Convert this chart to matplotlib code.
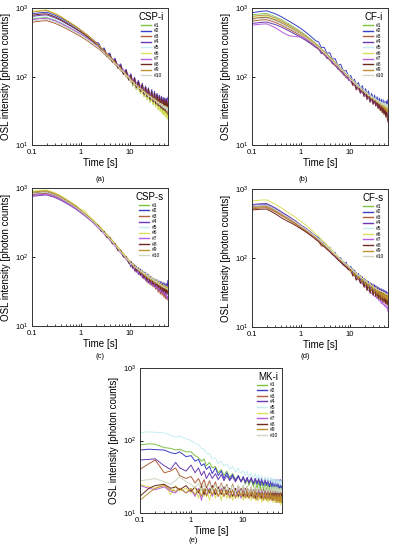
import matplotlib
matplotlib.use("Agg")
import matplotlib.pyplot as plt
from matplotlib.ticker import LogLocator, NullLocator, FixedLocator, FixedFormatter

plt.rcParams['font.family'] = ['Liberation Sans', 'DejaVu Sans']

# time axis shared by all decay curves [s]
time_s = [0.1, 0.15, 0.2, 0.3, 0.4, 0.5, 0.6, 0.8, 1.0,
          1.2, 1.4, 1.6, 1.8, 2.0, 2.3, 2.6, 3.0, 3.4, 3.9, 4.4, 5.0, 5.7, 6.5, 7.4, 8.4, 9.5,
          10.5, 11.5, 12.5, 13.5, 15, 16.5, 18, 19.5, 21, 22.5, 24, 26, 28, 30, 32, 34, 36, 38,
          40, 42, 44, 46, 48, 50, 52, 54, 56, 58, 60]

sample_names = ['#1', '#2', '#3', '#4', '#5', '#6', '#7', '#8', '#9', '#10']
sample_colors = ['#7dc242', '#3a3fc4', '#b0603c', '#6a3bb0', '#c8eef4',
                 '#dbe05a', '#b45ee0', '#6e2a1e', '#c0922e', '#cdd8c4']

csp_i = [
    [700, 725, 735, 665, 605, 555, 515, 460, 418,
     385, 356, 332, 310, 292, 270, 246, 226, 200, 188, 165, 158, 136, 130, 110, 108, 90,
     98, 73, 90, 65, 79, 57, 72, 51, 65, 46, 62, 42, 57, 39, 53, 37, 49, 33, 47, 32, 45, 29, 43, 28, 42, 27, 40, 26, 36],
    [830, 860, 875, 785, 710, 645, 598, 528, 474,
     430, 398, 366, 342, 320, 310, 258, 262, 210, 222, 172, 186, 138, 154, 112, 128, 93,
     110, 82, 98, 73, 88, 65, 80, 58, 73, 53, 69, 49, 65, 45, 61, 42, 57, 40, 54, 38, 52, 37, 50, 36, 49, 34, 48, 33, 48],
    [625, 650, 660, 600, 548, 505, 470, 422, 385,
     356, 330, 308, 290, 274, 255, 236, 215, 199, 180, 168, 150, 140, 122, 116, 100, 96,
     84, 84, 74, 75, 66, 66, 58, 60, 52, 55, 49, 51, 45, 48, 42, 45, 40, 42, 37, 40, 35, 39, 33, 37, 31, 36, 30, 34, 28],
    [760, 790, 800, 722, 655, 598, 555, 492, 445,
     408, 375, 350, 326, 306, 296, 248, 254, 202, 214, 166, 180, 134, 150, 110, 126, 90,
     108, 79, 97, 70, 87, 62, 78, 55, 72, 51, 67, 47, 62, 44, 59, 41, 56, 38, 53, 36, 51, 35, 49, 34, 48, 33, 47, 36, 50],
    [720, 745, 755, 685, 622, 570, 530, 472, 430,
     395, 366, 340, 318, 299, 276, 254, 230, 213, 192, 178, 160, 148, 132, 123, 108, 102,
     92, 90, 81, 81, 72, 72, 65, 66, 59, 61, 55, 56, 51, 52, 47, 50, 44, 47, 42, 45, 40, 43, 38, 41, 37, 40, 35, 39, 34],
    [900, 930, 945, 840, 750, 675, 620, 540, 480,
     432, 395, 362, 335, 312, 285, 260, 235, 212, 194, 176, 158, 142, 128, 116, 104, 94,
     88, 78, 76, 68, 67, 58, 60, 52, 54, 47, 50, 43, 46, 40, 42, 36, 39, 33, 37, 31, 34, 29, 32, 27, 31, 26, 29, 24, 27],
    [680, 705, 715, 652, 595, 548, 512, 458, 420,
     388, 360, 336, 316, 298, 276, 256, 232, 216, 194, 183, 162, 152, 134, 127, 110, 106,
     94, 92, 84, 83, 74, 74, 67, 68, 61, 62, 57, 57, 52, 53, 48, 50, 45, 47, 43, 45, 41, 44, 39, 42, 38, 41, 36, 40, 45],
    [790, 820, 830, 745, 672, 612, 566, 500, 450,
     410, 378, 348, 327, 304, 292, 244, 248, 198, 208, 163, 176, 133, 146, 108, 122, 89,
     105, 78, 94, 69, 84, 61, 77, 55, 70, 51, 66, 46, 61, 43, 57, 40, 54, 38, 51, 36, 49, 34, 47, 33, 46, 32, 45, 31, 42],
    [880, 910, 925, 825, 740, 668, 615, 538, 480,
     434, 398, 366, 338, 316, 290, 262, 238, 218, 196, 180, 160, 146, 131, 118, 108, 97,
     91, 85, 80, 74, 72, 66, 65, 60, 59, 55, 55, 51, 51, 47, 48, 44, 45, 41, 43, 39, 41, 37, 39, 35, 38, 34, 37, 33, 36],
    [650, 675, 685, 625, 570, 524, 488, 438, 400,
     368, 342, 318, 300, 283, 262, 243, 220, 204, 186, 172, 154, 143, 126, 118, 104, 98,
     87, 85, 77, 76, 68, 67, 61, 61, 55, 56, 51, 52, 47, 48, 44, 46, 41, 43, 39, 41, 37, 40, 35, 38, 34, 37, 32, 36, 31],
]

cf_i = [
    [800, 825, 840, 752, 680, 620, 575, 506, 455,
     414, 380, 352, 328, 306, 282, 258, 234, 214, 194, 176, 160, 146, 130, 120, 106, 100,
     90, 86, 80, 76, 70, 66, 64, 58, 60, 52, 56, 48, 53, 45, 50, 43, 48, 40, 46, 38, 44, 37, 42, 36, 41, 35, 40, 33, 38],
    [860, 900, 915, 830, 750, 684, 634, 560, 505,
     458, 420, 388, 360, 336, 322, 268, 268, 220, 224, 180, 184, 146, 152, 120, 124, 100,
     104, 86, 92, 75, 82, 66, 74, 60, 67, 54, 62, 50, 57, 46, 54, 43, 51, 41, 49, 39, 47, 37, 46, 36, 44, 34, 44, 36, 46],
    [650, 672, 680, 620, 565, 520, 486, 432, 392,
     360, 333, 310, 290, 272, 250, 230, 208, 192, 174, 160, 144, 133, 118, 110, 97, 92,
     88, 74, 78, 64, 68, 57, 62, 51, 56, 46, 52, 42, 48, 39, 45, 37, 42, 34, 40, 32, 38, 30, 37, 29, 35, 27, 34, 25, 28],
    [600, 620, 628, 578, 530, 490, 458, 410, 375,
     346, 322, 302, 284, 268, 258, 218, 220, 184, 186, 154, 156, 128, 130, 106, 108, 88,
     92, 76, 83, 66, 73, 58, 66, 52, 59, 47, 55, 43, 50, 40, 47, 38, 44, 35, 42, 34, 40, 32, 39, 30, 37, 29, 36, 27, 32],
    [780, 805, 818, 735, 665, 606, 562, 496, 448,
     408, 376, 348, 326, 304, 282, 258, 234, 216, 196, 180, 162, 150, 133, 124, 110, 104,
     94, 90, 83, 80, 74, 71, 66, 64, 60, 58, 55, 54, 51, 50, 48, 47, 45, 45, 43, 43, 41, 42, 40, 41, 39, 40, 38, 39, 37],
    [720, 745, 755, 685, 622, 570, 530, 470, 425,
     388, 358, 333, 311, 292, 270, 247, 224, 206, 187, 172, 155, 143, 127, 118, 104, 99,
     88, 86, 78, 76, 69, 68, 61, 62, 55, 57, 51, 53, 47, 49, 44, 46, 41, 44, 39, 42, 37, 40, 35, 39, 34, 38, 33, 36, 32],
    [565, 585, 592, 520, 455, 415, 395, 385, 378,
     362, 340, 318, 298, 280, 258, 236, 212, 196, 178, 164, 148, 136, 121, 113, 99, 94,
     84, 81, 74, 72, 65, 64, 58, 57, 52, 52, 48, 48, 44, 45, 41, 42, 38, 40, 36, 38, 34, 37, 32, 35, 31, 34, 29, 32, 28],
    [700, 725, 735, 668, 608, 558, 518, 458, 415,
     380, 350, 325, 304, 285, 263, 241, 218, 201, 182, 168, 151, 140, 124, 116, 102, 97,
     92, 77, 82, 67, 73, 60, 66, 54, 59, 49, 55, 45, 50, 41, 46, 38, 43, 35, 40, 32, 38, 30, 36, 28, 34, 26, 33, 25, 22],
    [760, 785, 795, 720, 652, 596, 553, 489, 442,
     403, 372, 345, 322, 302, 279, 255, 232, 213, 194, 178, 160, 148, 131, 122, 108, 102,
     91, 89, 80, 79, 71, 70, 63, 63, 57, 58, 52, 53, 48, 49, 45, 46, 42, 43, 40, 41, 37, 39, 35, 37, 33, 36, 31, 34, 30],
    [690, 712, 722, 658, 600, 552, 514, 456, 414,
     380, 351, 327, 306, 288, 266, 244, 221, 204, 185, 171, 154, 143, 127, 119, 105, 100,
     89, 87, 79, 78, 70, 70, 63, 63, 57, 58, 53, 54, 49, 51, 46, 48, 43, 46, 41, 44, 39, 43, 38, 42, 37, 41, 36, 40, 35],
]

csp_s = [
    [880, 905, 915, 830, 745, 676, 624, 545, 478,
     425, 392, 360, 334, 310, 282, 260, 230, 212, 188, 172, 152, 140, 122, 112, 98, 91,
     82, 80, 73, 72, 66, 64, 59, 59, 54, 54, 50, 50, 46, 47, 43, 45, 40, 43, 38, 41, 36, 40, 35, 39, 34, 38, 33, 37, 32],
    [820, 848, 858, 782, 705, 642, 594, 520, 458,
     414, 376, 346, 322, 298, 284, 238, 234, 194, 192, 158, 156, 128, 126, 102, 102, 82,
     87, 72, 78, 65, 71, 58, 65, 53, 60, 49, 56, 45, 52, 42, 49, 40, 47, 37, 45, 35, 44, 34, 43, 33, 42, 32, 41, 34, 46],
    [800, 828, 838, 765, 690, 630, 583, 511, 450,
     407, 370, 341, 317, 295, 268, 247, 220, 201, 180, 163, 147, 132, 118, 106, 95, 86,
     82, 72, 71, 62, 63, 54, 56, 48, 51, 43, 46, 40, 43, 37, 40, 34, 37, 31, 35, 29, 33, 28, 31, 26, 30, 25, 28, 24, 26],
    [760, 785, 795, 728, 660, 604, 560, 494, 438,
     398, 364, 337, 314, 292, 267, 244, 218, 200, 178, 164, 146, 134, 117, 108, 94, 88,
     72, 82, 63, 74, 56, 67, 50, 61, 46, 57, 42, 53, 39, 49, 37, 47, 35, 45, 33, 44, 31, 42, 30, 41, 29, 40, 28, 42, 33],
    [850, 878, 890, 808, 728, 662, 612, 535, 470,
     425, 385, 354, 329, 305, 278, 255, 228, 208, 186, 169, 152, 137, 122, 110, 99, 90,
     83, 77, 75, 69, 68, 61, 63, 56, 58, 51, 54, 47, 50, 44, 47, 41, 45, 38, 43, 36, 41, 35, 39, 34, 38, 33, 37, 32, 36],
    [900, 930, 940, 850, 765, 695, 640, 560, 490,
     470, 405, 372, 345, 318, 290, 266, 236, 216, 194, 176, 156, 142, 126, 114, 101, 92,
     85, 78, 77, 69, 70, 61, 64, 55, 59, 50, 55, 46, 52, 43, 49, 41, 46, 38, 44, 36, 42, 35, 40, 33, 39, 32, 38, 31, 37],
    [780, 805, 815, 745, 675, 616, 570, 500, 442,
     400, 365, 337, 313, 290, 264, 242, 216, 196, 176, 160, 144, 130, 115, 105, 92, 86,
     82, 68, 72, 60, 64, 54, 57, 49, 52, 45, 48, 42, 45, 39, 42, 36, 40, 34, 38, 32, 36, 30, 35, 29, 34, 27, 33, 25, 27],
    [840, 868, 878, 798, 718, 654, 604, 528, 463,
     418, 380, 350, 325, 301, 286, 238, 236, 192, 194, 156, 158, 124, 126, 100, 102, 82,
     86, 70, 76, 62, 68, 55, 61, 50, 56, 46, 52, 43, 48, 40, 45, 38, 43, 36, 41, 34, 40, 32, 38, 31, 37, 30, 36, 29, 34],
    [870, 898, 908, 825, 742, 674, 622, 544, 477,
     430, 390, 358, 332, 307, 280, 256, 229, 208, 187, 169, 152, 137, 122, 110, 98, 89,
     82, 78, 72, 70, 64, 62, 58, 56, 53, 52, 49, 49, 46, 46, 43, 44, 41, 42, 39, 40, 37, 39, 36, 38, 35, 37, 34, 36, 33],
    [830, 858, 868, 790, 712, 648, 598, 524, 460,
     416, 378, 348, 323, 300, 273, 250, 224, 204, 182, 166, 149, 134, 119, 108, 96, 88,
     81, 77, 72, 70, 66, 63, 60, 58, 55, 54, 51, 50, 48, 47, 45, 44, 42, 42, 40, 40, 39, 38, 37, 37, 36, 36, 35, 35, 34],
]

cf_s = [
    [540, 555, 560, 485, 428, 390, 362, 318, 284,
     262, 240, 224, 210, 198, 182, 166, 154, 138, 130, 116, 110, 97, 92, 80, 78, 68,
     72, 56, 64, 50, 57, 44, 51, 39, 46, 35, 43, 32, 40, 30, 37, 28, 35, 27, 33, 25, 32, 25, 31, 24, 30, 23, 29, 22, 27],
    [580, 596, 600, 518, 455, 413, 382, 336, 300,
     274, 253, 235, 221, 208, 200, 168, 170, 140, 144, 116, 122, 96, 102, 80, 88, 68,
     76, 61, 67, 54, 60, 48, 54, 43, 49, 39, 46, 36, 43, 34, 41, 32, 39, 30, 37, 29, 36, 28, 35, 27, 34, 26, 33, 25, 30],
    [520, 535, 540, 468, 414, 378, 350, 308, 275,
     252, 233, 216, 203, 190, 176, 150, 150, 136, 126, 115, 106, 96, 88, 80, 74, 68,
     64, 58, 58, 50, 52, 45, 47, 40, 43, 36, 39, 33, 36, 30, 34, 28, 32, 27, 31, 25, 30, 24, 29, 23, 28, 22, 27, 21, 25],
    [600, 615, 620, 535, 470, 426, 392, 342, 300,
     278, 254, 238, 222, 208, 190, 178, 160, 150, 134, 128, 112, 108, 92, 90, 78, 78,
     66, 70, 58, 62, 52, 56, 46, 51, 42, 47, 38, 44, 35, 42, 33, 40, 31, 38, 29, 36, 27, 35, 26, 34, 25, 33, 24, 32, 23],
    [560, 575, 580, 502, 442, 402, 372, 327, 292,
     267, 247, 230, 216, 204, 188, 174, 159, 147, 134, 124, 114, 105, 96, 88, 82, 76,
     71, 67, 63, 60, 56, 53, 50, 48, 46, 44, 42, 40, 39, 37, 36, 35, 34, 33, 32, 32, 31, 30, 30, 29, 29, 28, 28, 28, 27],
    [675, 695, 700, 610, 535, 480, 440, 385, 342,
     310, 283, 260, 241, 225, 206, 188, 170, 156, 141, 129, 117, 107, 97, 89, 81, 76,
     70, 67, 61, 60, 54, 54, 48, 49, 44, 45, 40, 42, 37, 39, 35, 37, 33, 35, 31, 34, 30, 33, 29, 32, 28, 31, 27, 30, 26],
    [560, 574, 578, 498, 438, 398, 368, 322, 287,
     262, 242, 225, 211, 199, 183, 168, 154, 140, 128, 116, 108, 96, 90, 80, 76, 68,
     65, 59, 56, 51, 49, 45, 43, 40, 38, 36, 34, 33, 31, 30, 28, 28, 26, 26, 24, 25, 22, 24, 21, 22, 20, 21, 19, 20, 17],
    [500, 512, 515, 440, 385, 352, 330, 295, 266,
     246, 228, 212, 200, 188, 174, 160, 147, 135, 124, 113, 105, 95, 88, 80, 75, 68,
     69, 55, 61, 48, 54, 43, 49, 38, 45, 34, 42, 31, 39, 29, 36, 28, 34, 26, 33, 25, 32, 24, 31, 23, 30, 22, 29, 21, 25],
    [540, 556, 560, 484, 427, 389, 360, 317, 284,
     262, 242, 226, 212, 200, 185, 170, 156, 143, 131, 121, 111, 102, 93, 86, 79, 74,
     63, 70, 55, 62, 50, 56, 45, 51, 41, 47, 38, 44, 35, 41, 32, 38, 30, 36, 29, 34, 27, 33, 26, 31, 26, 30, 25, 29, 24],
    [570, 585, 590, 510, 448, 407, 376, 330, 294,
     270, 249, 232, 218, 205, 189, 175, 160, 147, 135, 124, 114, 105, 96, 88, 82, 76,
     71, 67, 63, 60, 56, 54, 51, 49, 47, 45, 43, 42, 40, 39, 37, 37, 35, 35, 34, 34, 33, 33, 32, 32, 31, 31, 30, 30, 30],
]

mk_i = [
    [87, 90, 89, 80, 78, 74, 76, 70, 70,
     62, 58, 52, 56, 45, 50, 42, 44, 36, 40, 33, 38, 31, 35, 29, 33, 27,
     31, 25, 30, 24, 29, 23, 28, 22, 27, 21, 27, 21, 26, 20, 26, 20, 25, 19, 25, 19, 24, 19, 24, 18, 24, 18, 23, 18, 23],
    [74, 76, 75, 74, 68, 66, 70, 60, 62,
     52, 55, 45, 48, 40, 44, 35, 42, 33, 38, 30, 36, 29, 34, 28, 33, 27,
     32, 26, 31, 26, 30, 25, 30, 25, 29, 24, 29, 24, 28, 24, 28, 23, 28, 23, 27, 23, 27, 23, 27, 22, 27, 22, 26, 22, 26],
    [40, 48, 54, 36, 38, 42, 33, 30, 32,
     26, 30, 24, 29, 22, 28, 21, 27, 20, 26, 20, 25, 19, 25, 19, 24, 18,
     24, 18, 23, 18, 23, 17, 23, 17, 22, 17, 22, 17, 22, 16, 22, 16, 21, 16, 21, 16, 21, 15, 21, 15, 20, 15, 20, 14, 19],
    [54, 55, 56, 45, 40, 50, 42, 38, 46,
     36, 42, 33, 38, 30, 36, 30, 35, 29, 34, 28, 33, 28, 32, 27, 32, 27,
     31, 27, 31, 26, 31, 26, 30, 26, 30, 26, 30, 25, 30, 25, 30, 25, 30, 25, 29, 25, 29, 25, 29, 24, 29, 24, 29, 24, 28],
    [128, 132, 130, 128, 118, 112, 115, 106, 100,
     92, 88, 78, 76, 66, 66, 56, 58, 48, 52, 44, 48, 40, 44, 37, 42, 35,
     39, 33, 38, 31, 36, 30, 35, 29, 34, 28, 33, 27, 32, 27, 31, 26, 31, 26, 30, 25, 30, 25, 29, 25, 29, 24, 28, 24, 28],
    [25, 23, 22, 25, 18, 24, 20, 22, 19,
     23, 16, 24, 17, 22, 15, 23, 16, 22, 15, 22, 16, 21, 15, 21, 16, 21,
     15, 21, 16, 20, 15, 20, 15, 20, 15, 20, 14, 20, 15, 19, 14, 19, 15, 19, 14, 19, 14, 19, 14, 18, 14, 18, 13, 18, 14],
    [24, 22, 21, 23, 20, 19, 22, 19, 21,
     17, 22, 15, 21, 18, 22, 17, 21, 17, 22, 17, 21, 17, 21, 17, 21, 16,
     21, 17, 20, 16, 20, 16, 20, 16, 20, 16, 20, 16, 20, 16, 19, 16, 19, 15, 19, 16, 19, 15, 19, 15, 19, 15, 18, 15, 18],
    [17, 22, 24, 25, 22, 23, 21, 24, 20,
     23, 19, 24, 18, 23, 19, 24, 18, 23, 18, 23, 18, 22, 17, 22, 17, 22,
     17, 22, 17, 21, 17, 21, 16, 21, 17, 21, 16, 21, 16, 20, 16, 20, 16, 20, 15, 20, 16, 20, 15, 19, 15, 19, 15, 19, 14],
    [15, 19, 22, 24, 21, 20, 22, 19, 22,
     18, 21, 17, 22, 17, 21, 18, 22, 17, 21, 17, 21, 16, 21, 16, 20, 17,
     20, 16, 20, 16, 20, 16, 20, 15, 19, 16, 19, 15, 19, 15, 19, 15, 19, 15, 18, 15, 18, 14, 18, 14, 18, 14, 18, 14, 17],
    [28, 29, 30, 27, 25, 28, 32, 27, 25,
     22, 26, 20, 25, 21, 26, 20, 25, 20, 25, 20, 24, 20, 24, 19, 24, 19,
     24, 19, 24, 19, 23, 19, 23, 19, 23, 19, 23, 19, 23, 19, 23, 19, 23, 19, 23, 19, 23, 19, 23, 19, 22, 19, 22, 19, 22],
]

panel_data = [csp_i, cf_i, csp_s, cf_s, mk_i]
panel_titles = ['CSP-i', 'CF-i', 'CSP-s', 'CF-s', 'MK-i']
panel_letters = ['(a)', '(b)', '(c)', '(d)', '(e)']

fig = plt.figure(figsize=(3.95, 5.5), dpi=100)

# axes boxes in figure fractions
boxes = [
    [0.081, 0.736, 0.344, 0.249],
    [0.638, 0.736, 0.344, 0.249],
    [0.081, 0.407, 0.344, 0.251],
    [0.638, 0.405, 0.344, 0.251],
    [0.354, 0.067, 0.360, 0.264],
]
letter_pos = [(0.253, 0.674), (0.767, 0.674), (0.253, 0.351), (0.772, 0.351), (0.49, 0.018)]

for box, curves, title, letter, lp in zip(boxes, panel_data, panel_titles, panel_letters, letter_pos):
    ax = fig.add_axes(box)
    for vals, name, col in zip(curves, sample_names, sample_colors):
        ax.plot(time_s, vals, color=col, lw=0.7, label=name)
    ax.set_xscale('log')
    ax.set_yscale('log')
    ax.set_xlim(0.1, 60)
    ax.set_ylim(10, 1000)
    ax.xaxis.set_major_locator(FixedLocator([0.1, 1, 10]))
    ax.xaxis.set_major_formatter(FixedFormatter(['0.1', '1', '10']))
    ax.xaxis.set_minor_locator(LogLocator(base=10, subs=range(2, 10)))
    ax.yaxis.set_major_locator(LogLocator(base=10))
    ax.yaxis.set_minor_locator(NullLocator())
    ax.tick_params(axis='both', which='major', direction='in', length=2.5, width=0.6,
                   labelsize=5.5, pad=2.5)
    ax.tick_params(axis='x', which='minor', direction='in', length=1.5, width=0.5)
    for sp in ax.spines.values():
        sp.set_linewidth(0.7)
        sp.set_color('#333333')
    ax.set_xlabel('Time [s]', fontsize=7, labelpad=2)
    ax.set_ylabel('OSL intensity [photon counts]', fontsize=7, labelpad=3)
    leg = ax.legend(title=title, loc='upper right', frameon=False, fontsize=3.5,
                    title_fontsize=7, handlelength=2.0, handletextpad=0.6,
                    labelspacing=0.12, borderaxespad=0.4)
    for line in leg.get_lines():
        line.set_linewidth(1.0)
    fig.text(lp[0], lp[1], letter, fontsize=5.5, ha='center', va='center')

fig.savefig('out.png', dpi=100)
